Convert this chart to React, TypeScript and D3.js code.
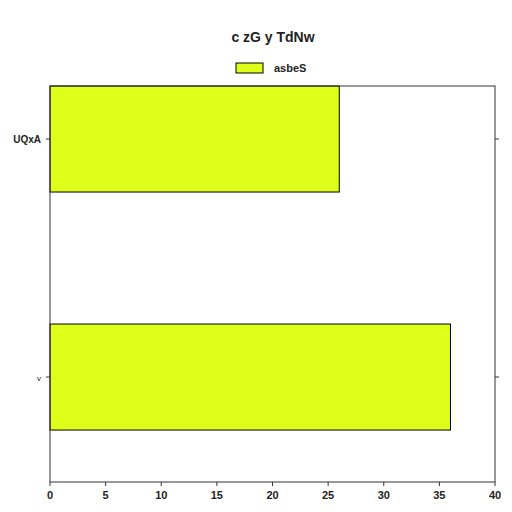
import * as d3 from "d3";

const categories = ["v", "UQxA"];
const values = [36, 26];
const xTicks = [0, 5, 10, 15, 20, 25, 30, 35, 40];
const seriesName = "asbeS";
const title = "c zG y TdNw";

export default function App() {
  const width = 512;
  const height = 512;
  const margin = { top: 86, right: 17, bottom: 30, left: 50 };
  const half = 0.2227;
  const x = d3.scaleLinear([0, 40], [margin.left, width - margin.right]);
  const y = d3.scaleLinear([-0.441, 1 + half], [height - margin.bottom, margin.top]);
  const font = "'Liberation Sans', Arial, sans-serif";

  return (
    <svg
      width={width}
      height={height}
      viewBox={`0 0 ${width} ${height}`}
      style={{ position: "absolute", left: 0, top: 0, background: "#fff" }}
      fontFamily={font}
    >
      <text x={width / 2 + 17} y={42} textAnchor="middle" fontSize={14} fontWeight="bold" fill="#222">
        {title}
      </text>
      <rect x={236} y={63} width={27} height={10} fill="#ddff1a" stroke="#000" strokeWidth={1} />
      <text x={274} y={72} fontSize={11} fontWeight="bold" fill="#222">
        {seriesName}
      </text>

      {categories.map((c, i) => (
        <rect
          key={c}
          x={x(0)}
          y={y(i + half)}
          width={x(values[i]) - x(0)}
          height={y(i - half) - y(i + half)}
          fill="#ddff1a"
          stroke="#000"
          strokeWidth={1}
        >
          <title>{`${c}: ${values[i]}`}</title>
        </rect>
      ))}

      <rect
        x={margin.left}
        y={margin.top}
        width={width - margin.left - margin.right}
        height={height - margin.top - margin.bottom}
        fill="none"
        stroke="#333"
        strokeWidth={1}
      />

      {xTicks.map((t) => (
        <g key={t}>
          <line x1={x(t)} x2={x(t)} y1={height - margin.bottom} y2={height - margin.bottom + 4} stroke="#333" />
          <text x={x(t)} y={height - margin.bottom + 17} textAnchor="middle" fontSize={11} fontWeight="bold" fill="#222">
            {t}
          </text>
        </g>
      ))}

      {categories.map((c, i) => (
        <g key={c}>
          <line x1={margin.left - 4} x2={margin.left} y1={y(i)} y2={y(i)} stroke="#333" />
          <line x1={width - margin.right} x2={width - margin.right + 4} y1={y(i)} y2={y(i)} stroke="#333" />
          <text x={margin.left - 9} y={y(i) + 4} textAnchor="end" fontSize={i === 0 ? 8 : 10} fontWeight={i === 0 ? "normal" : "bold"} fill="#222">
            {c}
          </text>
        </g>
      ))}
    </svg>
  );
}
